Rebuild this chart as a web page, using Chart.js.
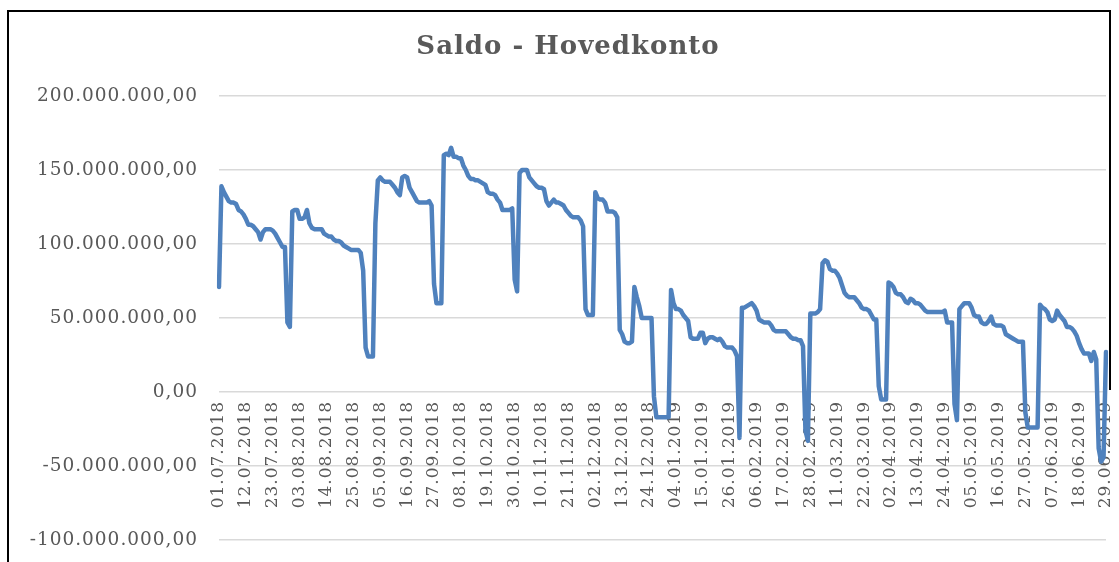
<!DOCTYPE html>
<html>
<head>
<meta charset="utf-8">
<script src="https://cdn.jsdelivr.net/npm/chart.js@4/dist/chart.umd.min.js"></script>
<style>
  html, body { margin: 0; padding: 0; background: #fff; }
  #wrap { position: relative; width: 1119px; height: 562px; overflow: hidden; }
  #chart { position: absolute; left: 0; top: 0; }
  #frame { position: absolute; left: 7px; top: 10px; width: 1102px; height: 600px; border-left: 2px solid #000; border-top: 2px solid #000; pointer-events: none; }
  #frameRight { position: absolute; left: 1109px; top: 10px; width: 2px; height: 380px; background: #000; pointer-events: none; }
</style>
</head>
<body>
<div id="wrap">
  <canvas id="chart" width="1119" height="562"></canvas>
  <div id="frame"></div>
  <div id="frameRight"></div>
</div>
<script>
// Daily balance (in millions), 01.07.2018 - 29.06.2019
const saldo = [
  71, 139, 135, 132, 129, 128, 128, 127, 123, 122,
  120, 117, 113, 113, 112, 110, 108, 103, 108, 110,
  110, 110, 109, 107, 104, 101, 98, 98, 47, 44,
  122, 123, 123, 117, 117, 118, 123, 114, 111, 110,
  110, 110, 110, 107, 106, 105, 105, 103, 102, 102,
  101, 99, 98, 97, 96, 96, 96, 96, 94, 82,
  30, 24, 24, 24, 114, 143, 145, 143, 142, 142,
  142, 140, 138, 135, 133, 145, 146, 145, 138, 135,
  132, 129, 128, 128, 128, 128, 129, 126, 73, 60,
  60, 60, 160, 161, 160, 165, 159, 159, 158, 158,
  153, 150, 146, 144, 144, 143, 143, 142, 141, 140,
  135, 134, 134, 133, 130, 128, 123, 123, 123, 123,
  124, 76, 68, 148, 150, 150, 150, 145, 143, 141,
  139, 138, 138, 137, 129, 126, 128, 130, 128, 128,
  127, 126, 123, 121, 119, 118, 118, 118, 116, 112,
  56, 52, 52, 52, 135, 131, 130, 130, 128, 122,
  122, 122, 121, 118, 42, 39, 34, 33, 33, 34,
  71, 64, 58, 50, 50, 50, 50, 50, -3, -17,
  -17, -17, -17, -17, -17, 69, 60, 56, 56, 55,
  52, 50, 48, 37, 36, 36, 36, 40, 40, 33,
  36, 37, 37, 36, 35, 36, 34, 31, 30, 30,
  30, 28, 24, -31, 57, 57, 58, 59, 60, 58,
  55, 49, 48, 47, 47, 47, 45, 42, 41, 41,
  41, 41, 41, 39, 37, 36, 36, 35, 35, 31,
  -26, -33, 53, 53, 53, 54, 56, 87, 89, 88,
  83, 82, 82, 80, 77, 72, 67, 65, 64, 64,
  64, 62, 60, 57, 56, 56, 55, 52, 49, 49,
  4, -5, -5, -5, 74, 73, 71, 67, 66, 66,
  64, 61, 60, 63, 62, 60, 60, 59, 57, 55,
  54, 54, 54, 54, 54, 54, 54, 55, 47, 47,
  47, -8, -19, 56, 58, 60, 60, 60, 57, 52,
  51, 51, 47, 46, 46, 48, 51, 46, 45, 45,
  45, 44, 39, 38, 37, 36, 35, 34, 34, 34,
  -14, -24, -24, -24, -24, -24, 59, 57, 56, 54,
  49, 48, 49, 55, 52, 50, 48, 44, 44, 43,
  41, 38, 33, 29, 26, 26, 26, 21, 27, 22,
  -38, -47, -44, 27
];

const firstDay = Date.UTC(2018, 6, 1);   // 01.07.2018
const labelStep = 11;                    // every 11th date is written on the axis
const yTicks = [-100, -50, 0, 50, 100, 150, 200];

function pad(n) { return n < 10 ? '0' + n : '' + n; }

const dates = saldo.map((_, i) => {
  const d = new Date(firstDay + i * 86400000);
  return pad(d.getUTCDate()) + '.' + pad(d.getUTCMonth() + 1) + '.' + d.getUTCFullYear();
});

function fmtMio(v) {
  const n = Math.round(v * 1e6);
  const s = Math.abs(n).toString().replace(/\B(?=(\d{3})+(?!\d))/g, '.');
  return (n < 0 ? '-' : '') + s + ',00';
}

const serif = 'DejaVu Serif';
const grey = '#595959';

// a little tracking, the original font is wide and spaced
const spacing = {
  id: 'spacing',
  beforeLayout(chart) { chart.ctx.letterSpacing = '1px'; },
  beforeDraw(chart) { chart.ctx.letterSpacing = '1px'; }
};

new Chart(document.getElementById('chart'), {
  type: 'line',
  data: {
    labels: dates,
    datasets: [{
      label: 'Saldo',
      data: saldo,
      borderColor: '#4f81bd',
      borderWidth: 4.5,
      borderJoinStyle: 'round',
      borderCapStyle: 'round',
      pointRadius: 0,
      tension: 0,
      fill: false
    }]
  },
  options: {
    responsive: false,
    animation: false,
    devicePixelRatio: 1,
    layout: { padding: { left: 30, right: 13, top: 0, bottom: 22 } },
    plugins: {
      legend: { display: false },
      tooltip: { enabled: false },
      title: {
        display: true,
        text: 'Saldo - Hovedkonto',
        color: grey,
        font: { family: serif, size: 26, weight: 'bold' },
        padding: { top: 32, bottom: 32.8 }
      }
    },
    scales: {
      x: {
        type: 'category',
        position: { y: 0 },   // date labels hang under the zero line
        offset: false,
        afterFit: s => { s.paddingLeft = 0; s.paddingRight = 0; },
        grid: { display: false, drawTicks: false },
        border: { display: false },
        ticks: {
          autoSkip: false,
          minRotation: 90,
          maxRotation: 90,
          padding: 9,
          color: grey,
          font: { family: serif, size: 17 },
          callback: function (v, i) {
            return i % labelStep === 0 ? this.getLabelForValue(v) : '';
          }
        }
      },
      y: {
        min: yTicks[0],
        max: yTicks[yTicks.length - 1],
        afterBuildTicks: s => { s.ticks = yTicks.map(v => ({ value: v })); },
        afterFit: s => { s.width = 189; s.paddingTop = 0; s.paddingBottom = 0; },
        grid: { color: '#d9d9d9', lineWidth: 1.5, drawTicks: false },
        border: { display: false },
        ticks: {
          padding: 21,
          color: grey,
          font: { family: serif, size: 18.5 },
          callback: v => fmtMio(v)
        }
      }
    }
  },
  plugins: [spacing]
});
</script>
</body>
</html>
